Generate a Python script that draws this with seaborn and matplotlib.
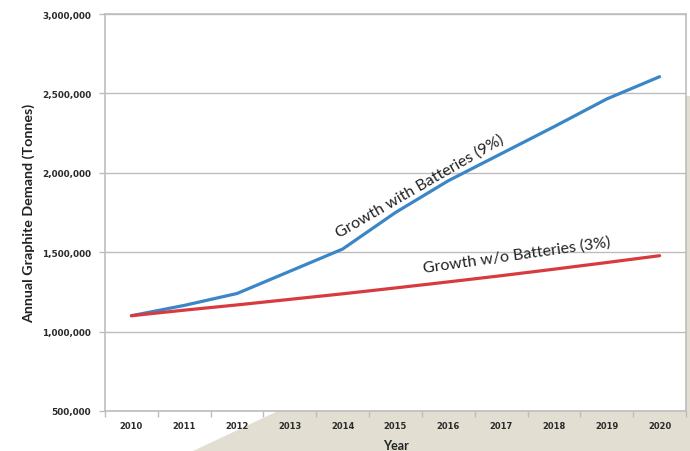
import numpy as np
import pandas as pd
import matplotlib
matplotlib.use("Agg")
import matplotlib.pyplot as plt
from matplotlib.patches import Polygon
from matplotlib.ticker import FixedLocator, FuncFormatter
import seaborn as sns

# Annual graphite demand (tonnes), 2010-2020
years = [2010, 2011, 2012, 2013, 2014, 2015, 2016, 2017, 2018, 2019, 2020]
with_batteries = [1100000, 1165000, 1240000, 1380000, 1520000, 1750000,
                  1950000, 2120000, 2290000, 2465000, 2605000]
without_batteries = [1100000, 1135000, 1168000, 1203000, 1238000, 1275000,
                     1313000, 1352000, 1393000, 1435000, 1478000]
series_names = ["Growth with Batteries (9%)", "Growth w/o Batteries (3%)"]
y_ticks = [500000, 1000000, 1500000, 2000000, 2500000, 3000000]

df = pd.DataFrame({
    "Year": years * 2,
    "Demand": with_batteries + without_batteries,
    "Series": [series_names[0]] * len(years) + [series_names[1]] * len(years),
})

sns.set_style("white")
plt.rcParams["font.family"] = ["Lato", "DejaVu Sans"]

W, H = 690, 452
fig = plt.figure(figsize=(W / 100, H / 100), dpi=100)
fig.patch.set_facecolor("white")

# beige slide shape behind the chart, lower right
def fp(x, y):
    return (x / W, 1 - y / H)

beige = Polygon([fp(193, 452), fp(278, 412), fp(686, 97), fp(690, 97),
                 fp(690, 452)], closed=True, transform=fig.transFigure,
                facecolor="#e2dfd2", edgecolor="none", zorder=-5)
fig.patches.append(beige)

ax = fig.add_axes([105 / W, 1 - 412 / H, (686 - 105) / W, (412 - 15) / H])
ax.set_zorder(2)
ax.set_facecolor("white")

sns.lineplot(data=df, x="Year", y="Demand", hue="Series",
             palette={series_names[0]: "#3a86c6", series_names[1]: "#d83b3f"},
             linewidth=2.3, legend=False, ax=ax, zorder=3)

ax.set_xlim(2009.5, 2020.5)
ax.set_ylim(500000, 3000000)

grid_c = "#bdbdbd"
ax.yaxis.set_major_locator(FixedLocator(y_ticks))
ax.yaxis.set_major_formatter(FuncFormatter(lambda v, p: f"{int(v):,}"))
ax.grid(axis="y", color=grid_c, linewidth=1.0, zorder=1)
ax.grid(axis="x", visible=False)

ax.xaxis.set_major_locator(FixedLocator(years))
ax.xaxis.set_minor_locator(FixedLocator([y + 0.5 for y in [2009] + years]))
ax.tick_params(axis="x", which="major", length=0, pad=7,
               labelsize=6, labelcolor="#2b2b2b")
ax.tick_params(axis="x", which="minor", length=4, width=1, color=grid_c,
               direction="out", bottom=True)
ax.tick_params(axis="y", which="major", length=4, width=1, color=grid_c,
               direction="out", left=True, pad=6, labelsize=6.4,
               labelcolor="#2b2b2b")
for lab in ax.get_xticklabels() + ax.get_yticklabels():
    lab.set_fontfamily("DejaVu Sans")
    lab.set_fontweight("bold")

for side in ["left", "right", "top", "bottom"]:
    ax.spines[side].set_visible(True)
    ax.spines[side].set_color(grid_c)
    ax.spines[side].set_linewidth(1.2)

ax.set_xlabel("Year", fontsize=9, fontweight="bold", color="#222222",
              labelpad=7)
ax.set_ylabel("Annual Graphite Demand (Tonnes)", fontsize=10.3,
              fontweight="bold", color="#222222", labelpad=5)

ax.text(2015.45, 1922000, series_names[0], rotation=30, fontsize=11.5,
        color="#222222", ha="center", va="center", zorder=4)
ax.text(2017.29, 1486000, series_names[1], rotation=8, fontsize=11.5,
        color="#222222", ha="center", va="center", zorder=4)

fig.savefig("out.png", dpi=100, facecolor=fig.get_facecolor())
